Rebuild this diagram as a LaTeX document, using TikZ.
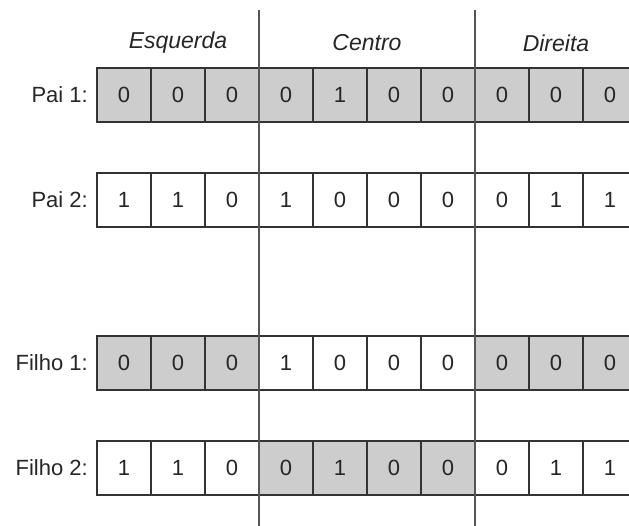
\documentclass[tikz,border=0pt]{standalone}
\usepackage{fontspec}
\setmainfont{Liberation Sans}
\definecolor{cellgray}{HTML}{CDCDCD}
\definecolor{cellline}{HTML}{333333}
\definecolor{cutline}{HTML}{555555}
\begin{document}
\begin{tikzpicture}[x=1pt,y=-1pt,
  bit/.style={draw=cellline, line width=1.3pt, minimum width=54pt, minimum height=54pt,
    inner sep=0pt, font=\fontsize{22}{26}\selectfont, text=black!85},
  on/.style={bit, fill=cellgray},
  off/.style={bit, fill=white},
  rowlabel/.style={anchor=east, inner sep=0pt, font=\fontsize{22}{26}\selectfont, text=black!85},
  zone/.style={inner sep=0pt, font=\fontsize{23}{27}\selectfont\itshape, text=black!85},
  cut/.style={draw=cutline, line width=1.4pt}]
\useasboundingbox (0,0) rectangle (629,526);
\clip (0,0) rectangle (629,526);

% chromosome rows: name / y-centre / bits / shading (1 = grey)
\foreach \r/\yc/\bits/\shade/\lab in {
  pa/95/{0,0,0,0,1,0,0,0,0,0}/{1,1,1,1,1,1,1,1,1,1}/{Pai 1:},
  pb/200/{1,1,0,1,0,0,0,0,1,1}/{0,0,0,0,0,0,0,0,0,0}/{Pai 2:},
  fa/363/{0,0,0,1,0,0,0,0,0,0}/{1,1,1,0,0,0,0,1,1,1}/{Filho 1:},
  fb/468/{1,1,0,0,1,0,0,0,1,1}/{0,0,0,1,1,1,1,0,0,0}/{Filho 2:}}{
  \node[rowlabel] (\r-lab) at (88,\yc) {\lab};
  \foreach \b [count=\i] in \bits {
    \pgfmathsetmacro{\s}{{\shade}[\i-1]}
    \ifnum\s=1
      \node[on] (\r-\i) at (70+54*\i,\yc) {\b};
    \else
      \node[off] (\r-\i) at (70+54*\i,\yc) {\b};
    \fi
  }
}

% section headings
\node[zone] (esq) at (178,43) {Esquerda};
\node[zone] (cen) at (367,43) {Centro};
\node[zone] (dir) at (556,43) {Direita};

% crossover cut points
\coordinate (c1top) at (259,10);
\coordinate (c1bot) at (259,526);
\coordinate (c2top) at (475,10);
\coordinate (c2bot) at (475,526);
\draw[cut] (c1top) -- (c1bot);
\draw[cut] (c2top) -- (c2bot);
\end{tikzpicture}
\end{document}
